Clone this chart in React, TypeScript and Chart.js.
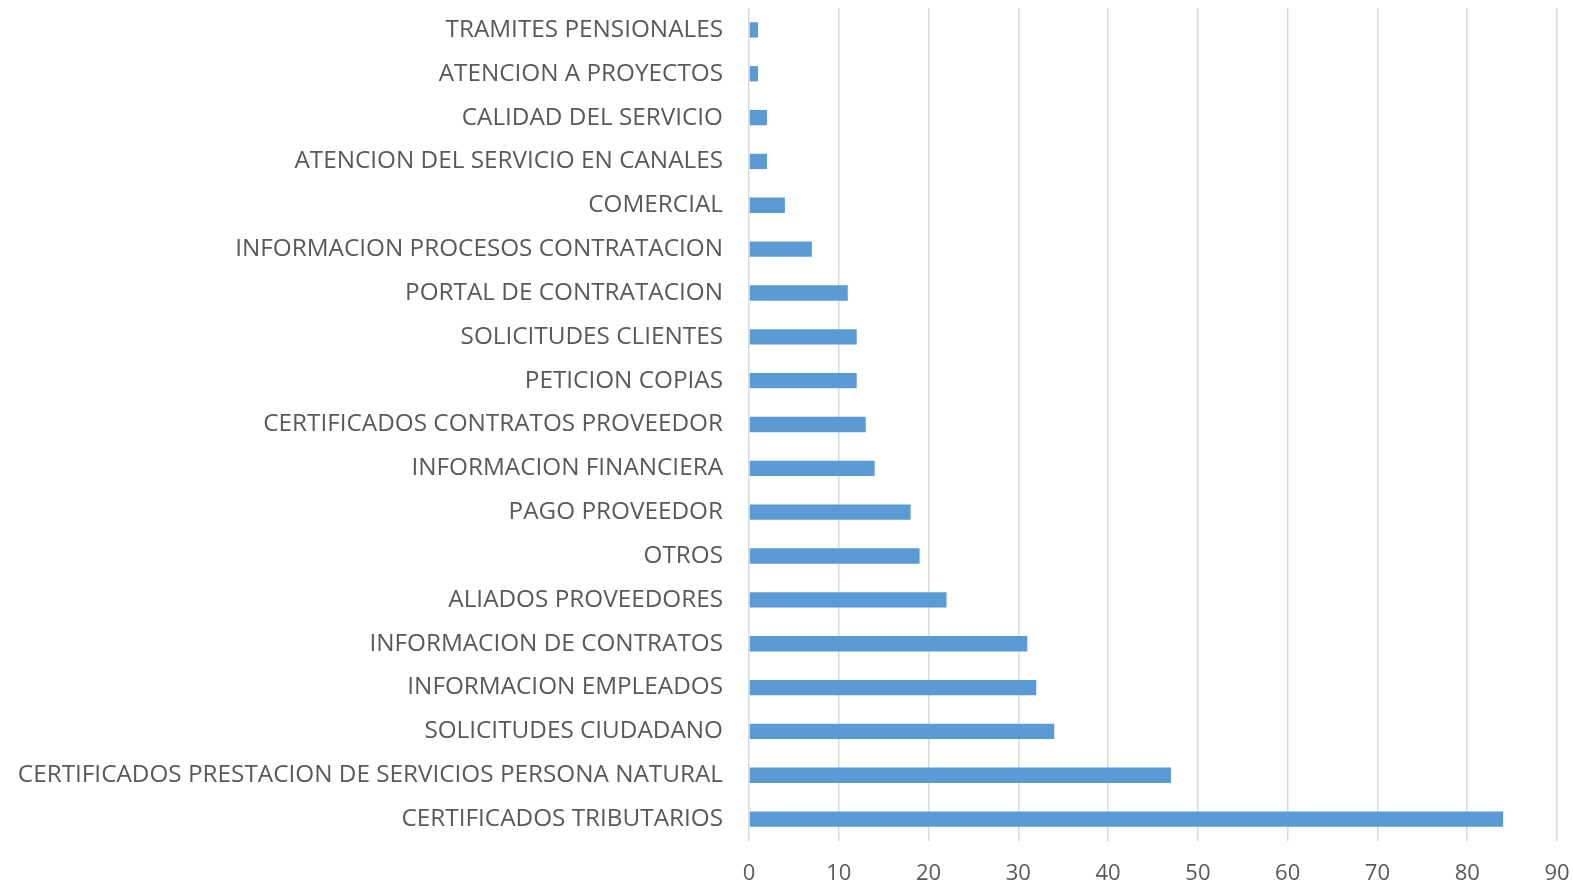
import React, { useEffect, useRef } from "react";
import { Chart, registerables } from "chart.js";

Chart.register(...registerables);

const categories = [
  "TRAMITES PENSIONALES",
  "ATENCION A PROYECTOS",
  "CALIDAD DEL SERVICIO",
  "ATENCION DEL SERVICIO EN CANALES",
  "COMERCIAL",
  "INFORMACION PROCESOS CONTRATACION",
  "PORTAL DE CONTRATACION",
  "SOLICITUDES CLIENTES",
  "PETICION COPIAS",
  "CERTIFICADOS CONTRATOS PROVEEDOR",
  "INFORMACION FINANCIERA",
  "PAGO PROVEEDOR",
  "OTROS",
  "ALIADOS PROVEEDORES",
  "INFORMACION DE CONTRATOS",
  "INFORMACION EMPLEADOS",
  "SOLICITUDES CIUDADANO",
  "CERTIFICADOS PRESTACION DE SERVICIOS PERSONA NATURAL",
  "CERTIFICADOS TRIBUTARIOS",
];

const values = [1, 1, 2, 2, 4, 7, 11, 12, 12, 13, 14, 18, 19, 22, 31, 32, 34, 47, 84];

const xMin = 0;
const xMax = 90;
const xStep = 10;

export default function App() {
  const ref = useRef<HTMLCanvasElement | null>(null);

  useEffect(() => {
    document.body.style.margin = "0";
    const canvas = ref.current;
    if (!canvas) return;
    const fontFamily = "'Open Sans', sans-serif";
    const chart = new Chart(canvas, {
      type: "bar",
      data: {
        labels: categories,
        datasets: [
          {
            data: values,
            backgroundColor: "#5B9BD5",
            borderWidth: 0,
            barPercentage: 0.35,
            categoryPercentage: 1,
          },
        ],
      },
      options: {
        indexAxis: "y",
        animation: false,
        responsive: false,
        maintainAspectRatio: false,
        layout: { padding: { top: 8, right: 16, left: 0, bottom: 0 } },
        plugins: {
          legend: { display: false },
          tooltip: { enabled: false },
        },
        scales: {
          x: {
            min: xMin,
            max: xMax,
            ticks: {
              stepSize: xStep,
              color: "#595959",
              font: { family: fontFamily, size: 22 },
              padding: 20,
            },
            grid: {
              color: "#d9d9d9",
              lineWidth: 1.5,
              drawTicks: false,
            },
            border: { display: false },
            afterFit: (scale: any) => {
              scale.height = 42;
              scale.paddingLeft = 0;
              scale.paddingRight = 0;
            },
          },
          y: {
            ticks: {
              color: "#595959",
              font: { family: fontFamily, size: 24.3 },
              padding: 26,
            },
            grid: { display: false, drawTicks: false },
            border: { display: false },
            afterFit: (scale: any) => {
              scale.width = 749;
              scale.paddingTop = 0;
              scale.paddingBottom = 0;
            },
          },
        },
      },
    });
    return () => chart.destroy();
  }, []);

  return (
    <div style={{ width: 1573, height: 883 }}>
      <canvas ref={ref} width={1573} height={883} style={{ display: "block" }} />
    </div>
  );
}
